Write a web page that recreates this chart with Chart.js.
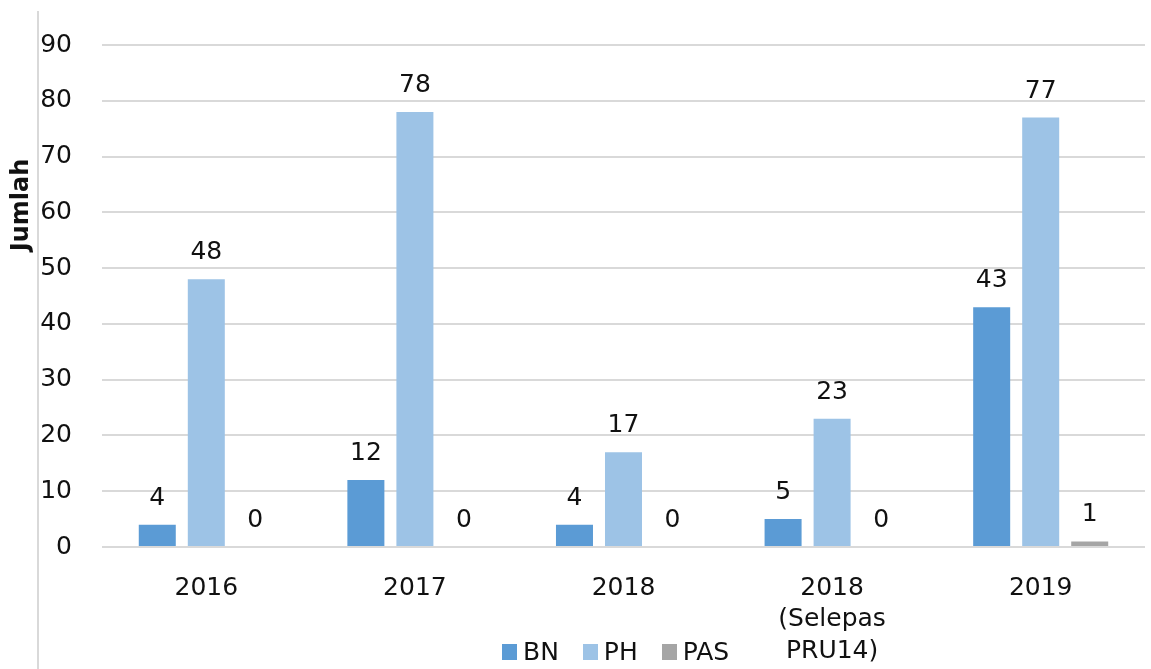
<!DOCTYPE html>
<html>
<head>
<meta charset="utf-8">
<script src="https://cdn.jsdelivr.net/npm/chart.js@4.4.0/dist/chart.umd.min.js"></script>
<style>
  html, body { margin: 0; padding: 0; background: #fff; }
  #wrap { position: relative; width: 1151px; height: 669px; overflow: hidden; }
  #edge { position: absolute; left: 37px; top: 11px; bottom: 0; border-left: 2px solid #d9d9d9; }
  #legend { position: absolute; left: 502px; top: 637px; display: flex; font: 25px "DejaVu Sans", Verdana, sans-serif; color: #111; }
  #legend span.item { display: flex; align-items: center; margin-right: 24px; }
  #legend span.box { display: inline-block; width: 15px; height: 16px; margin-right: 6px; }
</style>
</head>
<body>
<div id="wrap">
  <canvas id="chart" width="1151" height="669"></canvas>
  <div id="edge"></div>
  <div id="legend"></div>
</div>
<script>
var categories = [["2016"], ["2017"], ["2018"], ["2018", "(Selepas", "PRU14)"], ["2019"]];
var bnValues = [4, 12, 4, 5, 43];
var phValues = [48, 78, 17, 23, 77];
var pasValues = [0, 0, 0, 0, 1];
var yTicks = [0, 10, 20, 30, 40, 50, 60, 70, 80, 90];

var FONT = '"DejaVu Sans", Verdana, sans-serif';

// value labels above each bar + the y axis title
var barLabels = {
  id: 'barLabels',
  afterDatasetsDraw: function(chart) {
    var ctx = chart.ctx;
    ctx.save();
    ctx.font = '25px ' + FONT;
    ctx.fillStyle = '#111';
    ctx.textAlign = 'center';
    ctx.textBaseline = 'bottom';
    chart.data.datasets.forEach(function(ds, i) {
      chart.getDatasetMeta(i).data.forEach(function(bar, j) {
        ctx.fillText(String(ds.data[j]), bar.x, bar.y - 14);
      });
    });
    // axis title
    var area = chart.chartArea;
    ctx.font = 'bold 24px ' + FONT;
    ctx.translate(area.left - 80, area.top + 160);
    ctx.rotate(-Math.PI / 2);
    ctx.textBaseline = 'middle';
    ctx.fillText('Jumlah', 0, 0);
    ctx.restore();
  }
};

var chart = new Chart(document.getElementById('chart'), {
  type: 'bar',
  data: {
    labels: categories,
    datasets: [
      { label: 'BN', data: bnValues, backgroundColor: '#5b9bd5' },
      { label: 'PH', data: phValues, backgroundColor: '#9dc3e6' },
      { label: 'PAS', data: pasValues, backgroundColor: '#a5a5a5' }
    ]
  },
  options: {
    responsive: false,
    animation: false,
    layout: { padding: { top: 34, right: 6, bottom: 0, left: 0 } },
    datasets: { bar: { categoryPercentage: 0.705, barPercentage: 0.755 } },
    plugins: { legend: { display: false }, tooltip: { enabled: false } },
    scales: {
      x: {
        grid: { display: false },
        border: { display: false },
        ticks: { color: '#111', padding: 18, font: { family: FONT, size: 25, lineHeight: 1.25 }, maxRotation: 0, autoSkip: false },
        afterFit: function(s) { s.height = 122; }
      },
      y: {
        min: 0, max: 90,
        afterBuildTicks: function(s) { s.ticks = yTicks.map(function(v) { return { value: v }; }); },
        grid: { color: '#d9d9d9', lineWidth: 2, drawTicks: false },
        border: { display: false },
        ticks: { color: '#111', padding: 30, font: { family: FONT, size: 25 } },
        afterFit: function(s) { s.width = 102; }
      }
    }
  },
  plugins: [barLabels]
});

var legend = document.getElementById('legend');
chart.data.datasets.forEach(function(ds) {
  var item = document.createElement('span');
  item.className = 'item';
  var box = document.createElement('span');
  box.className = 'box';
  box.style.background = ds.backgroundColor;
  item.appendChild(box);
  item.appendChild(document.createTextNode(ds.label));
  legend.appendChild(item);
});
</script>
</body>
</html>
